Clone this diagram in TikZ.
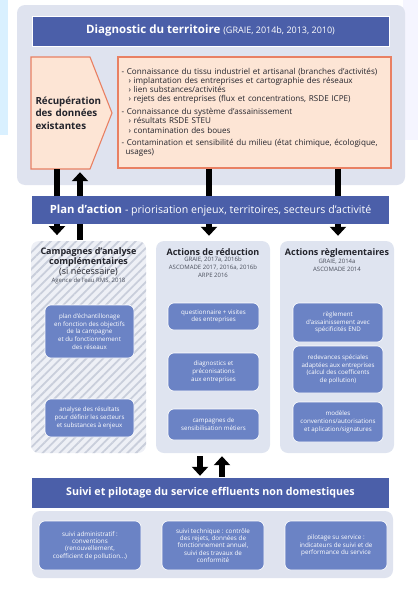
\documentclass[tikz,border=0pt]{standalone}
\usepackage{fontspec}
\setmainfont{Open Sans}
\usetikzlibrary{arrows.meta,positioning,patterns.meta}

\begin{document}
\begin{tikzpicture}[x=1pt,y=-1pt,
  panel/.style={fill=panelbg,rounded corners=8pt,inner sep=0pt},
  titlebar/.style={fill=barblue,text=white,inner sep=0pt,minimum width=357pt},
  peachbox/.style={fill=peach,draw=salmon,line width=1.1pt,inner sep=0pt},
  column/.style={fill=colbg,rounded corners=8pt,inner sep=0pt,minimum width=114pt,minimum height=212pt},
  coltitle/.style={align=center,inner sep=0pt,text=titlegrey,font=\fontsize{9}{9}\selectfont\bfseries},
  refs/.style={align=center,inner sep=0pt,text=refgrey,font=\fontsize{6}{7.6}\selectfont},
  bluebox/.style={fill=boxblue,draw=white,line width=0.6pt,rounded corners=6pt,text=white,align=center,inner sep=0pt,font=\fontsize{6.2}{7.7}\selectfont},
  bigarrow/.style={line width=6pt,-{Triangle[width=16pt,length=9pt]}}]
  \definecolor{panelbg}{HTML}{DFE3EF}
  \definecolor{colbg}{HTML}{DFE4F0}
  \definecolor{barblue}{HTML}{4B5FA9}
  \definecolor{boxblue}{HTML}{6B83C5}
  \definecolor{peach}{HTML}{FDE5D5}
  \definecolor{salmon}{HTML}{E98063}
  \definecolor{hatchbg}{HTML}{EEF0F6}
  \definecolor{hatchline}{HTML}{C9CEDB}
  \definecolor{titlegrey}{HTML}{22232B}
  \definecolor{refgrey}{HTML}{4A4F5C}
  \useasboundingbox (0,0) rectangle (418,589);
  % bords de la page
  \fill[blue!40!cyan!15] (0,0) rectangle (8,135);
  \fill[blue!4] (403,0) rectangle (418,140);
  % diagnostic
  \node[panel,minimum width=388pt,minimum height=180pt] (haut) at (211,95) {};
  \node[titlebar,draw=white,line width=0.8pt,minimum height=30pt] (diag) at (210.5,31)
    {\fontsize{11.5}{13}\selectfont\bfseries Diagnostic du territoire
     \fontsize{9}{10}\selectfont\mdseries(GRAIE, 2014b, 2013, 2010)};
  \draw[peachbox] (31,57) -- (90,57) -- (112,113) -- (90,169) -- (31,169) -- cycle;
  \node[inner sep=0pt,minimum width=81pt,minimum height=112pt,text width=72pt,align=left,
    text=titlegrey,font=\fontsize{9.8}{12.6}\selectfont\bfseries] (recup) at (71.5,113)
    {Récupération\\des données\\existantes};
  \node[peachbox,minimum width=273pt,minimum height=111pt,text width=266pt,align=left,
    text=titlegrey,font=\fontsize{8.1}{9.2}\selectfont] (connais) at (254.5,112.5)
    {- Connaissance du tissu industriel et artisanal (branches d’activités)\\
     \hspace*{7pt}› implantation des entreprises et cartographie des réseaux\\
     \hspace*{7pt}› lien substances/activités\\
     \hspace*{7pt}› rejets des entreprises (flux et concentrations, RSDE ICPE)\\[3.5pt]
     - Connaissance du système d’assainissement\\
     \hspace*{7pt}› résultats RSDE STEU\\
     \hspace*{7pt}› contamination des boues\\[3.5pt]
     - Contamination et sensibilité du milieu (état chimique, écologique,\\
     \hspace*{4pt}usages)};
  % colonnes
  \node[column,minimum width=115pt,preaction={fill=hatchbg},
    pattern={Lines[angle=45,distance=6pt,line width=1.8pt]},pattern color=hatchline]
    (campagnes) at (88.5,347) {};
  \node[column] (reduction) at (213,347) {};
  \node[column] (regl) at (337,347) {};
  \node[coltitle,below=7pt of campagnes.north] (camptitre)
    {Campagnes d’analyse\\complémentaires\\{\mdseries(si nécessaire)}};
  \node[refs,below=1.5pt of camptitre] (campref) {Agence de l’eau RMS, 2018};
  \node[coltitle,below=8pt of reduction.north] (redtitre) {Actions de réduction};
  \node[refs,below=1pt of redtitre] (redref)
    {GRAIE, 2017a, 2016b\\ASCOMADE 2017, 2016a, 2016b\\ARPE 2016};
  \node[coltitle,below=8pt of regl.north] (regltitre) {Actions règlementaires};
  \node[refs,below=1pt of regltitre] (reglref) {GRAIE, 2014a\\ASCOMADE 2014};
  % boites bleues
  \node[bluebox,minimum width=89pt,minimum height=53pt] (c1) at (89.5,331.5)
    {plan d’échantillonage\\en fonction des objectifs\\de la campagne\\et du fonctionnement\\des réseaux};
  \node[bluebox,minimum width=89pt,minimum height=38pt] (c2) at (89.5,418)
    {analyse des résultats\\pour définir les secteurs\\et substances à enjeux};
  \node[bluebox,minimum width=91pt,minimum height=27pt] (r1) at (213.5,316.5)
    {questionnaire + visites\\des entreprises};
  \node[bluebox,minimum width=91pt,minimum height=38pt] (r2) at (213.5,372)
    {diagnostics et\\préconisations\\aux entreprises};
  \node[bluebox,minimum width=91pt,minimum height=31pt] (r3) at (213.5,424.5)
    {campagnes de\\sensibilisation métiers};
  \node[bluebox,minimum width=90pt,minimum height=39pt] (g1) at (338,322.5)
    {règlement\\d’assainissement avec\\spécificités END};
  \node[bluebox,minimum width=90pt,minimum height=47pt] (g2) at (338,369.5)
    {redevances spéciales\\adaptées aux entreprises\\(calcul des coefficents\\de pollution)};
  \node[bluebox,minimum width=90pt,minimum height=40pt] (g3) at (338,422)
    {modèles\\conventions/autorisations\\et aplication/signatures};
  % fleches
  \coordinate (a1) at (57,0);
  \coordinate (a2) at (80,0);
  \coordinate (a3) at (209,0);
  \coordinate (a4) at (338,0);
  \coordinate (a5) at (200,0);
  \coordinate (a6) at (222,0);
  \draw[bigarrow,shorten >=5pt] (recup.south -| a1) -- (campagnes.north -| a1);
  \draw[bigarrow,shorten >=3pt] (campagnes.north -| a2) -- (recup.south -| a2);
  \draw[bigarrow,shorten >=5pt] (connais.south -| a3) -- (reduction.north -| a3);
  \draw[bigarrow,shorten >=5pt] (connais.south -| a4) -- (regl.north -| a4);
  \node[titlebar,minimum height=28pt] (plan) at (210.5,210)
    {\fontsize{11.3}{13}\selectfont\bfseries Plan d’action
     \fontsize{10.6}{11}\selectfont\mdseries- priorisation enjeux, territoires, secteurs d’activité};
  % suivi
  \node[titlebar,minimum height=30pt] (suivi) at (210.5,493)
    {\fontsize{10.7}{13}\selectfont\bfseries Suivi et pilotage du service effluents non domestiques};
  \draw[bigarrow,shorten <=3pt,shorten >=2pt] (reduction.south -| a5) -- (suivi.north -| a5);
  \draw[bigarrow,shorten <=1pt,shorten >=3pt] (suivi.north -| a6) -- (reduction.south -| a6);
  \node[panel,minimum width=361pt,minimum height=67pt] (bas) at (212.5,544.5) {};
  \node[bluebox,minimum width=102pt,minimum height=49pt,font=\fontsize{6.3}{7.3}\selectfont] (s1) at (90,545.5)
    {suivi administratif :\\conventions\\(renouvellement,\\coefficient de pollution...)};
  \node[bluebox,minimum width=102pt,minimum height=49pt,font=\fontsize{6.3}{7.3}\selectfont] (s2) at (213,545.5)
    {suivi technique : contrôle\\des rejets, données de\\fonctionnement annuel,\\suivi des travaux de\\conformité};
  \node[bluebox,minimum width=102pt,minimum height=49pt,font=\fontsize{6.3}{7.3}\selectfont] (s3) at (336,545.5)
    {pilotage su service :\\indicateurs de suivi et de\\performance du service};
\end{tikzpicture}
\end{document}
